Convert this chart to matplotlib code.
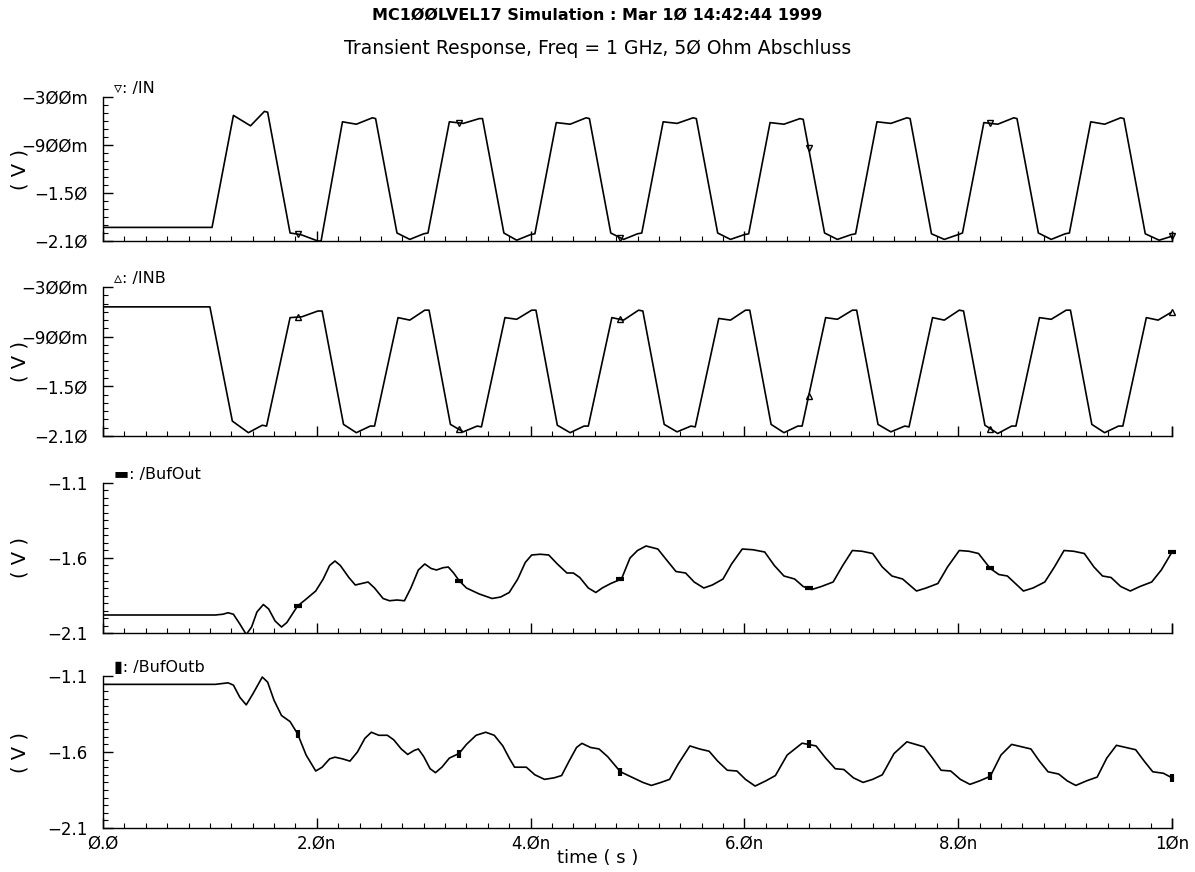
import numpy as np
import matplotlib
matplotlib.use("Agg")
import matplotlib.pyplot as plt
from matplotlib.ticker import MultipleLocator

plt.rcParams['font.family'] = ['DejaVu Sans']

# ---- data (time in ns, voltage in V) ----
in_t = [0.0, 1.02, 1.22, 1.38, 1.51, 1.54, 1.75, 1.85, 2.01, 2.04,
        2.24, 2.37, 2.52, 2.55, 2.75, 2.87, 3.00, 3.04,
        3.24, 3.37, 3.52, 3.55, 3.75, 3.87, 4.00, 4.04,
        4.24, 4.37, 4.52, 4.55, 4.75, 4.87, 5.00, 5.04,
        5.24, 5.37, 5.52, 5.55, 5.75, 5.87, 6.00, 6.04,
        6.24, 6.37, 6.52, 6.55, 6.75, 6.87, 7.00, 7.04,
        7.24, 7.37, 7.52, 7.55, 7.75, 7.87, 8.00, 8.04,
        8.24, 8.37, 8.52, 8.55, 8.75, 8.87, 9.00, 9.04,
        9.24, 9.37, 9.52, 9.55, 9.75, 9.88, 10.0]
in_v = [-1.93, -1.93, -0.53, -0.66, -0.48, -0.49, -2.00, -2.02, -2.10, -2.10,
        -0.61, -0.64, -0.56, -0.57, -2.00, -2.08, -2.01, -2.00,
        -0.61, -0.63, -0.57, -0.57, -2.00, -2.09, -2.02, -2.01,
        -0.62, -0.64, -0.56, -0.57, -2.00, -2.08, -2.01, -2.00,
        -0.61, -0.63, -0.56, -0.57, -2.00, -2.08, -2.02, -2.01,
        -0.62, -0.64, -0.57, -0.58, -2.00, -2.08, -2.02, -2.01,
        -0.61, -0.63, -0.56, -0.57, -2.01, -2.08, -2.02, -2.00,
        -0.62, -0.64, -0.56, -0.57, -2.00, -2.08, -2.01, -2.00,
        -0.61, -0.64, -0.56, -0.57, -2.01, -2.09, -2.04]

inb_t = [0.0, 1.00, 1.21, 1.36, 1.49, 1.53, 1.75, 1.86, 2.01, 2.05,
         2.25, 2.37, 2.50, 2.54, 2.76, 2.87, 3.01, 3.05,
         3.25, 3.37, 3.50, 3.54, 3.76, 3.87, 4.01, 4.05,
         4.25, 4.37, 4.50, 4.54, 4.76, 4.87, 5.01, 5.05,
         5.25, 5.37, 5.50, 5.54, 5.76, 5.87, 6.01, 6.05,
         6.25, 6.37, 6.50, 6.54, 6.76, 6.87, 7.01, 7.05,
         7.25, 7.37, 7.50, 7.54, 7.76, 7.87, 8.01, 8.05,
         8.25, 8.37, 8.50, 8.54, 8.76, 8.87, 9.01, 9.05,
         9.25, 9.37, 9.50, 9.54, 9.76, 9.87, 10.0]
inb_v = [-0.54, -0.54, -1.92, -2.06, -1.97, -1.98, -0.67, -0.66, -0.59, -0.59,
         -1.96, -2.06, -1.98, -1.98, -0.67, -0.70, -0.58, -0.58,
         -1.96, -2.05, -1.98, -1.99, -0.67, -0.69, -0.58, -0.58,
         -1.97, -2.06, -1.98, -1.98, -0.67, -0.70, -0.58, -0.59,
         -1.96, -2.05, -1.98, -1.99, -0.68, -0.70, -0.58, -0.58,
         -1.96, -2.06, -1.98, -1.98, -0.67, -0.69, -0.58, -0.58,
         -1.96, -2.05, -1.98, -1.99, -0.67, -0.70, -0.58, -0.59,
         -1.97, -2.07, -1.98, -1.98, -0.67, -0.69, -0.58, -0.58,
         -1.96, -2.06, -1.98, -1.98, -0.67, -0.70, -0.60]

bufout_t = [0.0, 1.05, 1.12, 1.17, 1.22, 1.28, 1.34, 1.39, 1.44, 1.50, 1.55, 1.61,
            1.67, 1.72, 1.82, 1.89, 1.99, 2.06, 2.12, 2.17, 2.22, 2.30, 2.36, 2.42,
            2.48, 2.54, 2.62, 2.68, 2.75, 2.82, 2.88, 2.95, 3.01, 3.07, 3.12, 3.18,
            3.23, 3.28, 3.33, 3.40, 3.52, 3.64, 3.72, 3.80, 3.88, 3.95, 4.01, 4.09,
            4.17, 4.25, 4.34, 4.40, 4.46, 4.54, 4.61, 4.67, 4.75, 4.85, 4.93, 5.00,
            5.08, 5.19, 5.28, 5.36, 5.45, 5.53, 5.62, 5.70, 5.80, 5.88, 5.98, 6.08,
            6.19, 6.28, 6.37, 6.47, 6.55, 6.63, 6.72, 6.83, 6.92, 7.01, 7.10, 7.20,
            7.29, 7.38, 7.48, 7.61, 7.70, 7.81, 7.90, 8.01, 8.10, 8.19, 8.30, 8.38,
            8.46, 8.61, 8.70, 8.81, 8.90, 8.99, 9.08, 9.18, 9.27, 9.35, 9.43, 9.52,
            9.61, 9.70, 9.81, 9.90, 10.0]
bufout_v = [-1.98, -1.98, -1.975, -1.965, -1.975, -2.04, -2.11, -2.06, -1.96, -1.91, -1.94, -2.02,
            -2.06, -2.03, -1.92, -1.88, -1.82, -1.74, -1.65, -1.62, -1.65, -1.73, -1.78, -1.77,
            -1.76, -1.80, -1.87, -1.885, -1.88, -1.885, -1.80, -1.68, -1.64, -1.67, -1.68, -1.665,
            -1.66, -1.70, -1.75, -1.80, -1.84, -1.87, -1.86, -1.83, -1.74, -1.63, -1.58, -1.575,
            -1.58, -1.64, -1.70, -1.70, -1.73, -1.80, -1.83, -1.80, -1.77, -1.74, -1.60, -1.55,
            -1.52, -1.54, -1.62, -1.69, -1.70, -1.76, -1.80, -1.78, -1.74, -1.64, -1.54, -1.545,
            -1.56, -1.65, -1.72, -1.74, -1.79, -1.81, -1.79, -1.76, -1.65, -1.55, -1.555, -1.57,
            -1.66, -1.72, -1.74, -1.82, -1.80, -1.77, -1.66, -1.55, -1.555, -1.57, -1.67, -1.71,
            -1.72, -1.82, -1.80, -1.76, -1.66, -1.55, -1.555, -1.57, -1.66, -1.72, -1.73, -1.79,
            -1.82, -1.79, -1.76, -1.68, -1.56]

bufoutb_t = [0.0, 1.05, 1.17, 1.22, 1.28, 1.34, 1.40, 1.49, 1.54, 1.60, 1.67, 1.75,
             1.82, 1.90, 1.99, 2.05, 2.12, 2.17, 2.24, 2.31, 2.38, 2.45, 2.51, 2.58,
             2.66, 2.72, 2.79, 2.85, 2.91, 2.95, 3.00, 3.06, 3.11, 3.17, 3.24, 3.33,
             3.40, 3.49, 3.58, 3.66, 3.74, 3.80, 3.85, 3.96, 4.04, 4.13, 4.22, 4.29,
             4.36, 4.43, 4.48, 4.56, 4.64, 4.72, 4.84, 4.93, 5.05, 5.13, 5.22, 5.30,
             5.38, 5.49, 5.58, 5.67, 5.75, 5.84, 5.93, 6.01, 6.10, 6.20, 6.29, 6.40,
             6.54, 6.67, 6.76, 6.85, 6.93, 7.02, 7.11, 7.20, 7.29, 7.40, 7.52, 7.68,
             7.76, 7.84, 7.93, 8.02, 8.11, 8.20, 8.30, 8.40, 8.50, 8.68, 8.76, 8.84,
             8.94, 9.02, 9.10, 9.20, 9.30, 9.39, 9.48, 9.66, 9.74, 9.82, 9.92, 10.0]
bufoutb_v = [-1.155, -1.155, -1.145, -1.16, -1.24, -1.29, -1.22, -1.107, -1.14, -1.26, -1.36, -1.40,
             -1.48, -1.62, -1.725, -1.70, -1.645, -1.634, -1.645, -1.66, -1.60, -1.51, -1.47, -1.49,
             -1.49, -1.52, -1.58, -1.616, -1.59, -1.58, -1.63, -1.71, -1.736, -1.70, -1.64, -1.61,
             -1.55, -1.49, -1.47, -1.49, -1.56, -1.64, -1.70, -1.70, -1.75, -1.78, -1.77, -1.755,
             -1.66, -1.57, -1.543, -1.57, -1.58, -1.63, -1.73, -1.76, -1.80, -1.82, -1.80, -1.78,
             -1.68, -1.56, -1.58, -1.595, -1.66, -1.72, -1.725, -1.78, -1.824, -1.79, -1.755, -1.62,
             -1.542, -1.56, -1.64, -1.71, -1.715, -1.77, -1.80, -1.78, -1.75, -1.61, -1.533, -1.566,
             -1.64, -1.72, -1.725, -1.78, -1.813, -1.79, -1.76, -1.62, -1.55, -1.58, -1.66, -1.73,
             -1.745, -1.79, -1.82, -1.79, -1.765, -1.64, -1.556, -1.585, -1.66, -1.73, -1.74, -1.77]

marker_t = [1.82, 3.33, 4.84, 6.60, 8.30, 10.0]

names = ["/IN", "/INB", "/BufOut", "/BufOutb"]
symbols = ["\u25bf", "\u25b5", "\u25ac", "\u25ae"]
ylims = [(-2.1, -0.3), (-2.1, -0.3), (-2.1, -1.1), (-2.1, -1.1)]
yticks_hi = [-0.3, -0.9, -1.5, -2.1]
yticks_lo = [-1.1, -1.6, -2.1]
ylabels_hi = ["\u22123\u00d8\u00d8m", "\u22129\u00d8\u00d8m", "\u22121.5\u00d8", "\u22122.1\u00d8"]
ylabels_lo = ["\u22121.1", "\u22121.6", "\u22122.1"]
xticks = [0, 2, 4, 6, 8, 10]
xlabels = ["\u00d8.\u00d8", "2.\u00d8n", "4.\u00d8n", "6.\u00d8n", "8.\u00d8n", "1\u00d8n"]

traces = [(in_t, in_v), (inb_t, inb_v), (bufout_t, bufout_v), (bufoutb_t, bufoutb_v)]
mstyles = [dict(marker='v', ms=5, mfc='none'), dict(marker='^', ms=5, mfc='none'),
           dict(marker='_', ms=6, mew=3), dict(marker='|', ms=6, mew=3)]

fig = plt.figure(figsize=(11.95, 8.72), dpi=100)
W, H = 1195, 872
left, right = 103, 1172
panels = [(97, 241), (287, 436), (483, 633), (676, 828)]

for i, (top, bot) in enumerate(panels):
    ax = fig.add_axes([left / W, 1 - bot / H, (right - left) / W, (bot - top) / H])
    t, v = traces[i]
    ax.plot(t, v, color='black', lw=1.2, clip_on=True)
    my = np.interp(marker_t, t, v)
    ax.plot(marker_t, my, ls='none', color='black', mec='black', clip_on=False, **mstyles[i])
    ax.set_xlim(0, 10)
    ax.set_ylim(*ylims[i])
    for s in ['top', 'right']:
        ax.spines[s].set_visible(False)
    for s in ['left', 'bottom']:
        ax.spines[s].set_linewidth(1.0)
    ax.set_xticks(xticks)
    ax.xaxis.set_minor_locator(MultipleLocator(0.2))
    if i == 3:
        ax.set_xticklabels(xlabels, fontsize=12)
    else:
        ax.set_xticklabels([])
    if i < 2:
        ax.set_yticks(yticks_hi)
        ax.set_yticklabels(ylabels_hi, fontsize=12)
        ax.yaxis.set_minor_locator(MultipleLocator(0.1))
    else:
        ax.set_yticks(yticks_lo)
        ax.set_yticklabels(ylabels_lo, fontsize=12)
        ax.yaxis.set_minor_locator(MultipleLocator(0.05))
    ax.tick_params(axis='both', which='major', direction='in', length=7, width=1.0)
    ax.tick_params(axis='both', which='minor', direction='in', length=3.5, width=0.8)
    ax.tick_params(axis='y', which='major', pad=11)
    ax.tick_params(axis='x', which='major', pad=5)
    # closing tick at the right end
    ax.plot([10, 10], [ylims[i][0], ylims[i][0] + (ylims[i][1] - ylims[i][0]) * 0.06],
            color='black', lw=1.0, clip_on=False)
    ax.annotate(symbols[i] + ": " + names[i], xy=(0, 1), xycoords='axes fraction',
                xytext=(8, 1), textcoords='offset points', fontsize=11.5, va='bottom', ha='left')
    fig.text(20 / W, 1 - (top + bot) / 2 / H, "( V )", rotation=90, fontsize=14,
             ha='center', va='center')

fig.text(0.5, 1 - 15 / H, "MC1\u00d8\u00d8LVEL17 Simulation : Mar 1\u00d8 14:42:44 1999",
         ha='center', va='center', fontsize=11.5, fontweight='bold')
fig.text(0.5, 1 - 48 / H, "Transient Response, Freq = 1 GHz, 5\u00d8 Ohm Abschluss",
         ha='center', va='center', fontsize=13.5)
fig.text(0.5, 1 - 858 / H, "time ( s )", ha='center', va='center', fontsize=13)

fig.savefig("out.png", dpi=100, facecolor='white')
